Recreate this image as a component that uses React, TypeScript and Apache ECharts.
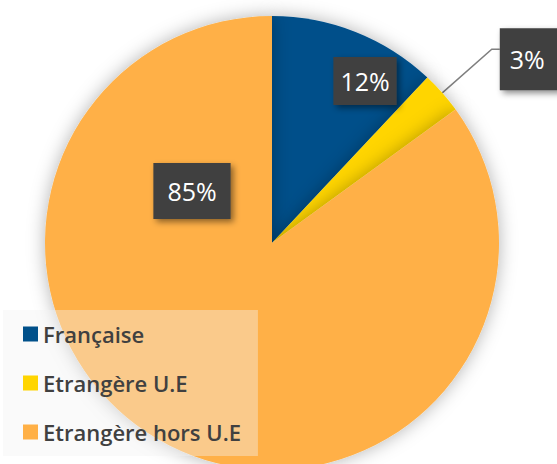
import React, { useEffect, useRef } from "react";
import * as echarts from "echarts";

const categories = ["Française", "Etrangère U.E", "Etrangère hors U.E"];
const values = [12, 3, 85];
const colors = ["#00508a", "#ffd500", "#ffb046"];

export default function App() {
  const ref = useRef<HTMLDivElement>(null);
  useEffect(() => {
    if (!ref.current) return;
    const chart = echarts.init(ref.current, null, { renderer: "svg" });
    const labelBase = {
      color: "#ffffff",
      fontFamily: "Open Sans",
      fontSize: 25,
      lineHeight: 30,
      backgroundColor: "#404040",
      shadowColor: "rgba(0,0,0,0.45)",
      shadowBlur: 6,
      shadowOffsetX: 3,
      shadowOffsetY: 3,
      formatter: "{c}%",
    };
    chart.setOption({
      animation: false,
      backgroundColor: "#ffffff",
      legend: {
        orient: "vertical",
        left: 3,
        top: 310,
        padding: [13, 17, 13, 20],
        backgroundColor: "rgba(242,242,242,0.4)",
        itemWidth: 15,
        itemHeight: 15,
        itemGap: 27,
        icon: "rect",
        data: categories,
        textStyle: {
          color: "#404040",
          fontFamily: "Open Sans",
          fontWeight: 600,
          fontSize: 22,
          lineHeight: 22,
        },
      },
      series: [
        {
          type: "pie",
          center: [272, 243],
          radius: 227,
          startAngle: 90,
          clockwise: true,
          avoidLabelOverlap: false,
          itemStyle: {
            shadowColor: "rgba(0,0,0,0.3)",
            shadowBlur: 18,
          },
          labelLayout: (p: any) => {
            if (p.dataIndex === 0) return { x: 365, y: 81, align: "center", verticalAlign: "middle" };
            if (p.dataIndex === 2) return { x: 192, y: 191, align: "center", verticalAlign: "middle" };
            return { dy: 10 };
          },
          data: categories.map((name, i) => {
            const d: any = { name, value: values[i], itemStyle: { color: colors[i] } };
            if (i === 0) {
              d.label = { ...labelBase, position: "inside", padding: [9, 7, 9, 7] };
              d.labelLine = { show: false };
            } else if (i === 2) {
              d.label = { ...labelBase, position: "inside", padding: [13, 14, 13, 14] };
              d.labelLine = { show: false };
            } else {
              d.label = {
                ...labelBase,
                position: "outside",
                alignTo: "none",
                distanceToLabelLine: 0,
                padding: [16, 16, 16, 10],
              };
              d.labelLine = {
                show: true,
                length: 66,
                length2: 8,
                lineStyle: { color: "#7f7f7f", width: 1.5 },
              };
            }
            return d;
          }),
        },
      ],
    });
    return () => chart.dispose();
  }, []);
  return <div ref={ref} style={{ width: 557, height: 464, position: "absolute", left: 0, top: 0 }} />;
}
